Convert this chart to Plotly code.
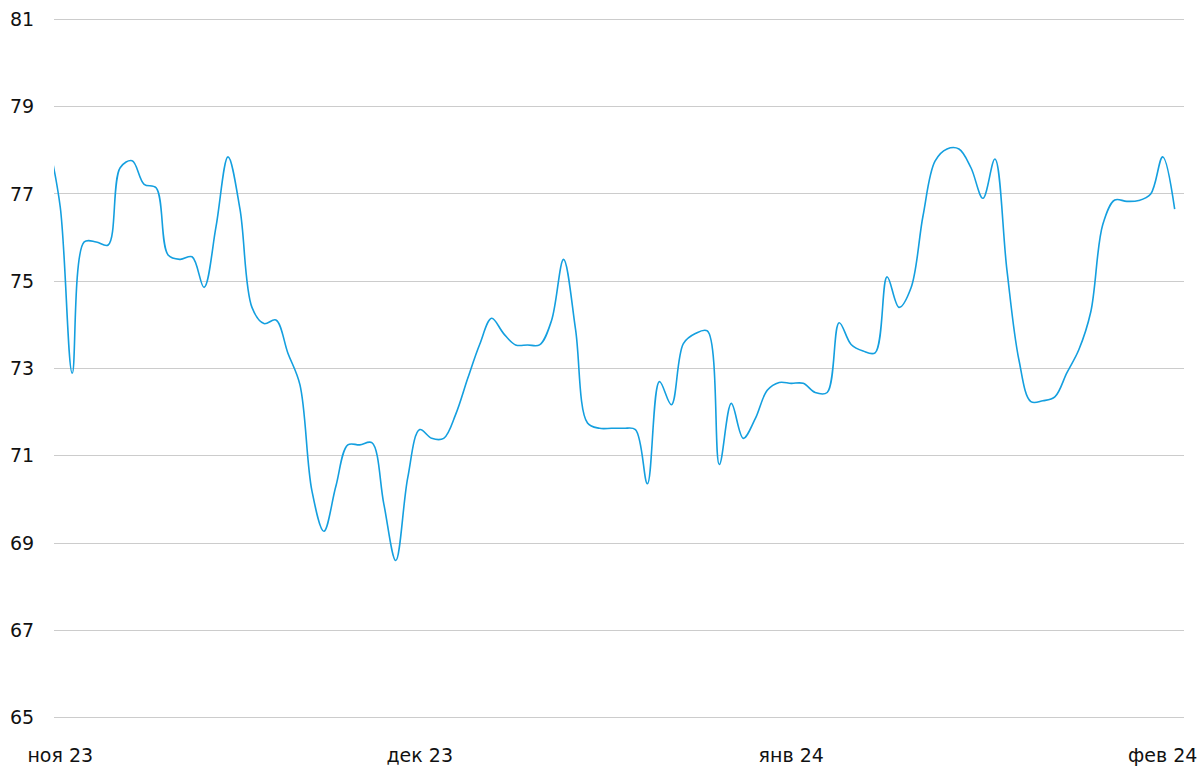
import pandas as pd
import plotly.graph_objects as go

# daily values, 31 Oct 2023 .. 2 Feb 2024
start_date = "2023-10-31"
values = [
    78.2, 76.70, 72.89, 75.9, 75.90, 75.83, 77.6, 77.76, 77.22, 77.14,
    75.6, 75.5, 75.56, 74.86, 76.25, 77.85, 76.65, 74.4, 74.03, 74.11,
    73.35, 72.63, 70.2, 69.27, 70.3, 71.25, 71.25, 71.3, 69.9, 68.6,
    70.5, 71.6, 71.40, 71.40, 71.95, 72.77, 73.55, 74.15, 73.8, 73.54,
    73.54, 73.54, 74.1, 75.5, 73.9, 71.75, 71.63, 71.63, 71.63, 71.6,
    70.36, 72.7, 72.17, 73.57, 73.80, 73.86, 70.8, 72.2, 71.4, 71.85,
    72.5, 72.68, 72.66, 72.66, 72.45, 72.45, 74.05, 73.55, 73.40, 73.36,
    75.1, 74.4, 74.85, 76.5, 77.75, 78.03, 78.03, 77.6, 76.9, 77.8,
    75.26, 73.2, 72.24, 72.26, 72.35, 72.9, 73.43, 74.3, 76.3, 76.86,
    76.83, 76.85, 77.0, 77.85, 76.65,
]
dates = pd.date_range(start_date, periods=len(values), freq="D")

tick_dates = ["2023-11-01", "2023-12-01", "2024-01-01", "2024-02-01"]
tick_labels = ["ноя 23", "дек 23", "янв 24", "фев 24"]
y_ticks = [65, 67, 69, 71, 73, 75, 77, 79, 81]

fig = go.Figure()
fig.add_trace(go.Scatter(
    x=dates, y=values, mode="lines",
    line=dict(color="#149fdf", width=1.6, shape="spline", smoothing=1),
    hoverinfo="x+y",
))

fig.update_layout(
    width=1200, height=766,
    margin=dict(l=54, r=15.5, t=14.6, b=43.6, autoexpand=False),
    paper_bgcolor="white", plot_bgcolor="white",
    showlegend=False,
    font=dict(family="DejaVu Sans", size=19, color="#111111"),
)
fig.update_xaxes(
    range=["2023-10-31 11:30", "2024-02-02 18:40"],
    tickvals=tick_dates, ticktext=tick_labels,
    showgrid=False, zeroline=False, showline=False,
    ticks="outside", ticklen=16, tickcolor="rgba(0,0,0,0)",
    ticklabeloverflow="allow",
)
fig.update_yaxes(
    range=[64.9, 81.1], tickvals=y_ticks,
    showgrid=True, gridcolor="#cccccc", gridwidth=1,
    zeroline=False, showline=False,
    ticks="outside", ticklen=15, tickcolor="rgba(0,0,0,0)",
)

# drop the default 8px body margin so the 1200x766 figure fills the window exactly
fig.write_html(
    "out.html",
    config={"displayModeBar": False},
    post_script="document.body.style.margin='0';",
)
